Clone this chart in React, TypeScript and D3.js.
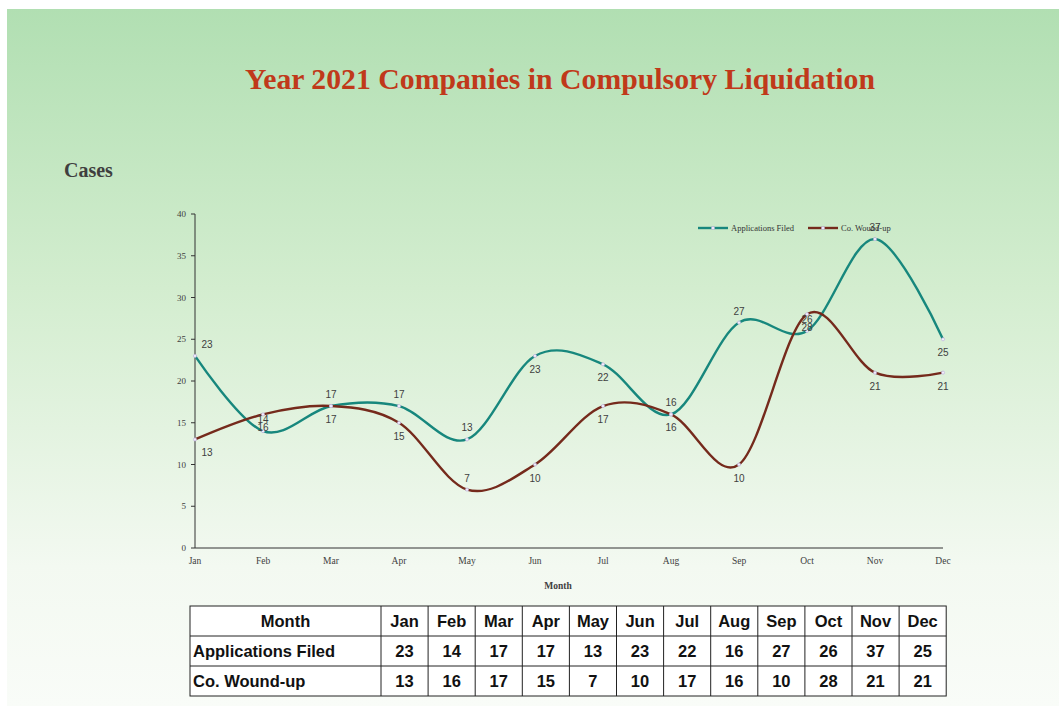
import React, { useEffect, useRef } from 'react';
import * as d3 from 'd3';

const months = ['Jan', 'Feb', 'Mar', 'Apr', 'May', 'Jun', 'Jul', 'Aug', 'Sep', 'Oct', 'Nov', 'Dec'];
const applicationsFiled = [23, 14, 17, 17, 13, 23, 22, 16, 27, 26, 37, 25];
const coWoundUp = [13, 16, 17, 15, 7, 10, 17, 16, 10, 28, 21, 21];
const yTicks = [0, 5, 10, 15, 20, 25, 30, 35, 40];

// where each data label sits: 'a' above, 'b' below
const appLabelSide = ['a', 'a', 'a', 'a', 'a', 'b', 'b', 'a', 'a', 'a', 'a', 'b'];
const woundLabelSide = ['b', 'b', 'b', 'b', 'a', 'b', 'b', 'b', 'b', 'b', 'b', 'b'];

const series = [
    { name: 'Applications Filed', values: applicationsFiled, color: '#17877d', sides: appLabelSide },
    { name: 'Co. Wound-up', values: coWoundUp, color: '#752a1c', sides: woundLabelSide },
];

const W = 1059;
const H = 706;

function App() {
    const ref = useRef<SVGSVGElement | null>(null);

    useEffect(() => {
        const svg = d3.select(ref.current);
        svg.selectAll('*').remove();

        // background gradient
        const defs = svg.append('defs');
        const grad = defs.append('linearGradient')
            .attr('id', 'bg').attr('x1', 0).attr('y1', 0).attr('x2', 0).attr('y2', 1);
        grad.append('stop').attr('offset', '0%').attr('stop-color', '#b1dfb2');
        grad.append('stop').attr('offset', '40%').attr('stop-color', '#d3edcf');
        grad.append('stop').attr('offset', '80%').attr('stop-color', '#f3f9f1');
        grad.append('stop').attr('offset', '100%').attr('stop-color', '#f9fcf8');

        svg.append('rect').attr('x', 7).attr('y', 9)
            .attr('width', W - 7).attr('height', H - 9).attr('fill', 'url(#bg)');

        // title
        svg.append('text')
            .attr('x', 560).attr('y', 89)
            .attr('text-anchor', 'middle')
            .attr('textLength', 630)
            .attr('lengthAdjust', 'spacingAndGlyphs')
            .style('font-family', '"Liberation Serif", "Times New Roman", serif')
            .style('font-weight', 'bold')
            .style('font-size', '29px')
            .style('fill', '#c0391a')
            .text('Year 2021 Companies in Compulsory Liquidation');

        svg.append('text')
            .attr('x', 64).attr('y', 177)
            .style('font-family', '"Liberation Serif", "Times New Roman", serif')
            .style('font-weight', 'bold')
            .style('font-size', '20px')
            .style('fill', '#3f3f3f')
            .text('Cases');

        const x = d3.scalePoint<string>().domain(months).range([195, 943]);
        const y = d3.scaleLinear().domain([0, 40]).range([548, 214]);

        const g = svg.append('g');

        // y axis
        g.append('line')
            .attr('x1', 195).attr('x2', 195).attr('y1', y(40)).attr('y2', y(0))
            .style('stroke', '#333').style('stroke-width', 1);
        g.selectAll('.ytick').data(yTicks).enter().append('line')
            .attr('x1', 191).attr('x2', 195)
            .attr('y1', (d) => y(d)).attr('y2', (d) => y(d))
            .style('stroke', '#333');
        g.selectAll('.ylab').data(yTicks).enter().append('text')
            .attr('x', 186).attr('y', (d) => y(d) + 3)
            .attr('text-anchor', 'end')
            .style('font-family', '"Liberation Serif", serif')
            .style('font-size', '9px')
            .style('fill', '#404040')
            .text((d) => d);

        // x axis
        g.append('line')
            .attr('x1', 195).attr('x2', 943).attr('y1', y(0)).attr('y2', y(0))
            .style('stroke', '#333').style('stroke-width', 1);
        g.selectAll('.xlab').data(months).enter().append('text')
            .attr('x', (d) => x(d) as number).attr('y', 564)
            .attr('text-anchor', 'middle')
            .style('font-family', '"Liberation Serif", serif')
            .style('font-size', '9.5px')
            .style('fill', '#404040')
            .text((d) => d);
        g.append('text')
            .attr('x', 558).attr('y', 589)
            .attr('text-anchor', 'middle')
            .style('font-family', '"Liberation Serif", serif')
            .style('font-weight', 'bold')
            .style('font-size', '9.5px')
            .style('fill', '#404040')
            .text('Month');

        const line = d3.line<number>()
            .x((_, i) => x(months[i]) as number)
            .y((d) => y(d))
            .curve(d3.curveCardinal.tension(0));

        series.forEach((s) => {
            g.append('path')
                .attr('d', line(s.values))
                .style('fill', 'none')
                .style('stroke', s.color)
                .style('stroke-width', 2.4);
        });

        series.forEach((s) => {
            g.selectAll(null).data(s.values).enter().append('circle')
                .attr('cx', (_, i) => x(months[i]) as number)
                .attr('cy', (d) => y(d))
                .attr('r', 1.6)
                .style('fill', '#f2eefa')
                .style('stroke', '#b9a9dc')
                .style('stroke-width', 0.6);
        });

        series.forEach((s) => {
            g.selectAll(null).data(s.values).enter().append('text')
                .attr('x', (_, i) => (x(months[i]) as number) + (i === 0 ? 12 : 0))
                .attr('y', (d, i) => y(d) + (s.sides[i] === 'a' ? -8 : 17))
                .attr('text-anchor', 'middle')
                .style('font-family', '"Liberation Sans", Arial, sans-serif')
                .style('font-size', '10px')
                .style('fill', '#404040')
                .text((d) => d);
        });

        // legend
        const lg = svg.append('g');
        series.forEach((s, i) => {
            const lx = 698 + i * 110;
            lg.append('line')
                .attr('x1', lx).attr('x2', lx + 30).attr('y1', 228).attr('y2', 228)
                .style('stroke', s.color).style('stroke-width', 2.4);
            lg.append('circle').attr('cx', lx + 15).attr('cy', 228).attr('r', 1.6)
                .style('fill', '#f2eefa').style('stroke', '#b9a9dc').style('stroke-width', 0.6);
            lg.append('text')
                .attr('x', lx + 33).attr('y', 231)
                .style('font-family', '"Liberation Serif", serif')
                .style('font-size', '8.5px')
                .style('fill', '#333')
                .text(s.name);
        });

        // data table
        const tx0 = 190;
        const tFirst = 191;
        const colW = 47.1;
        const rowH = 30;
        const ty0 = 606;
        const tbl = svg.append('g')
            .style('font-family', '"Liberation Sans", Arial, sans-serif')
            .style('font-weight', 'bold')
            .style('font-size', '16.5px')
            .style('fill', '#111');
        const rows = [
            { label: 'Month', cells: months as (string | number)[] },
            { label: 'Applications Filed', cells: applicationsFiled as (string | number)[] },
            { label: 'Co. Wound-up', cells: coWoundUp as (string | number)[] },
        ];
        const tw = tFirst + colW * months.length;
        tbl.append('rect')
            .attr('x', tx0).attr('y', ty0).attr('width', tw).attr('height', rowH * 3)
            .style('fill', '#fff').style('stroke', '#222').style('stroke-width', 1);
        for (let r = 1; r < 3; r++) {
            tbl.append('line').attr('x1', tx0).attr('x2', tx0 + tw)
                .attr('y1', ty0 + r * rowH).attr('y2', ty0 + r * rowH)
                .style('stroke', '#222');
        }
        for (let c = 0; c < months.length; c++) {
            const cx = tx0 + tFirst + c * colW;
            tbl.append('line').attr('x1', cx).attr('x2', cx)
                .attr('y1', ty0).attr('y2', ty0 + rowH * 3)
                .style('stroke', '#222');
        }
        rows.forEach((row, r) => {
            const cy = ty0 + r * rowH + rowH / 2 + 6;
            tbl.append('text')
                .attr('x', r === 0 ? tx0 + tFirst / 2 : tx0 + 3)
                .attr('y', cy)
                .attr('text-anchor', r === 0 ? 'middle' : 'start')
                .text(row.label);
            row.cells.forEach((v, c) => {
                tbl.append('text')
                    .attr('x', tx0 + tFirst + c * colW + colW / 2)
                    .attr('y', cy)
                    .attr('text-anchor', 'middle')
                    .text(v);
            });
        });
    }, []);

    return (
        <svg ref={ref} width={W} height={H}
            style={{ position: 'absolute', left: 0, top: 0, display: 'block' }} />
    );
}

export default App;
